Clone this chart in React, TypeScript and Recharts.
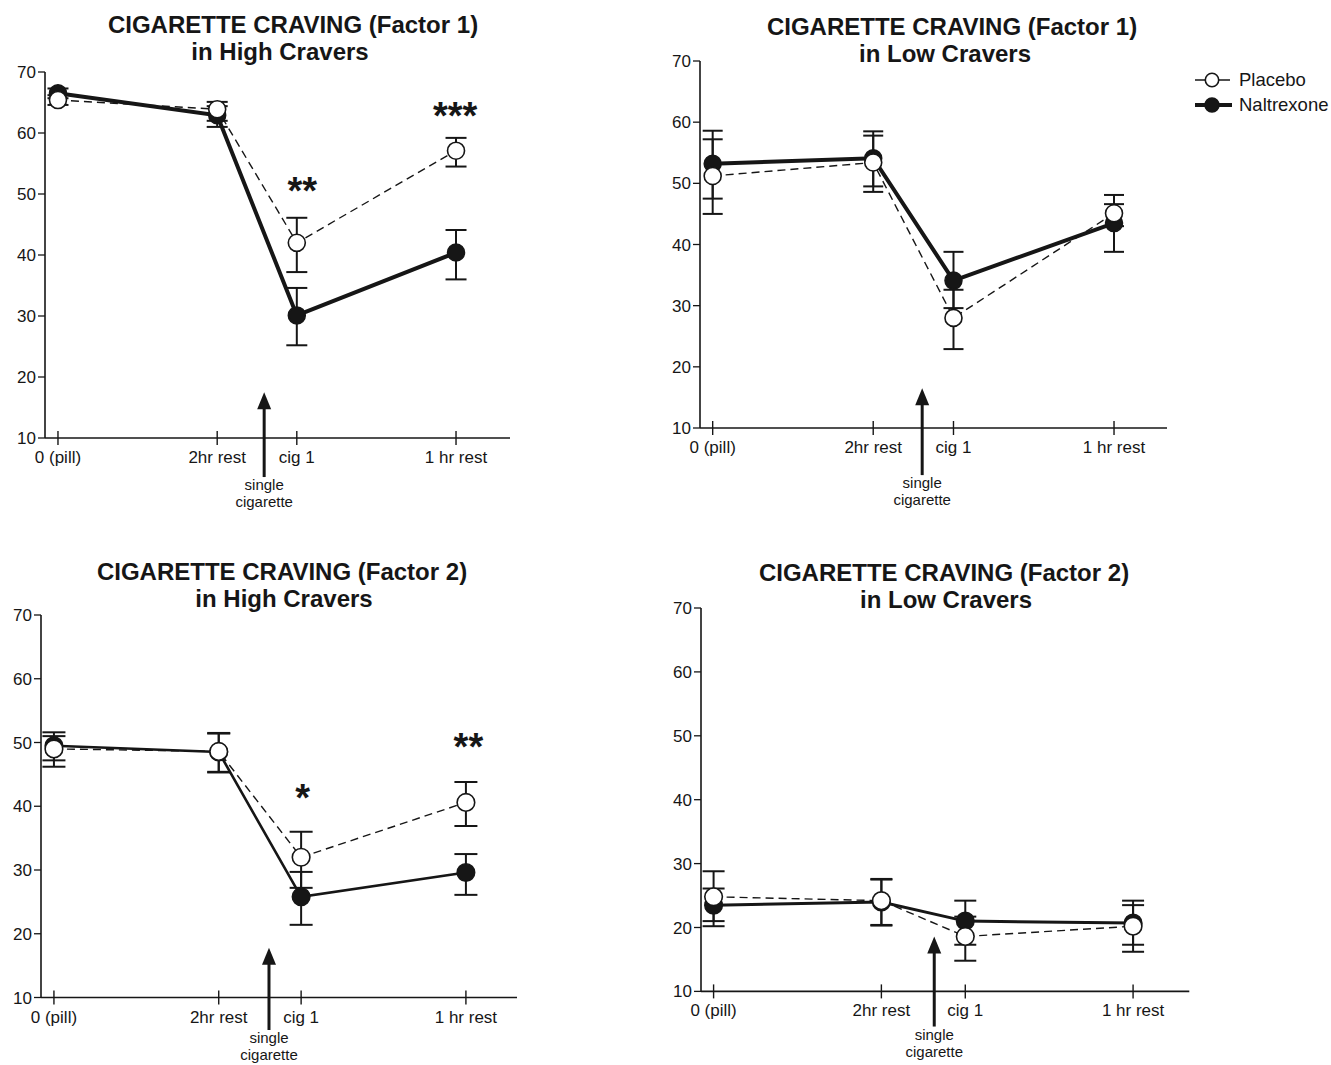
import React from 'react';
import { LineChart, Line, XAxis, YAxis, ErrorBar, ReferenceLine, ReferenceDot } from 'recharts';

const INK = '#161616';
const FONT = "'Liberation Sans', Arial, Helvetica, sans-serif";

const timeLabels = ['0 (pill)', '2hr rest', 'cig 1', '1 hr rest'];
const timePos = [0, 2, 3, 5];
const yTicks = [10, 20, 30, 40, 50, 60, 70];

// Factor 1, high cravers
const f1HighNal = [66.5, 62.9, 30.1, 40.4];
const f1HighNalLow = [65.7, 61.0, 25.2, 36.0];
const f1HighNalHigh = [67.3, 64.4, 34.6, 44.1];
const f1HighPla = [65.4, 63.9, 42.0, 57.1];
const f1HighPlaLow = [64.6, 62.0, 37.2, 54.5];
const f1HighPlaHigh = [66.2, 65.1, 46.1, 59.2];

// Factor 1, low cravers
const f1LowNal = [53.2, 54.1, 34.1, 43.5];
const f1LowNalLow = [47.5, 49.5, 29.6, 38.8];
const f1LowNalHigh = [58.6, 58.5, 38.8, 48.1];
const f1LowPla = [51.2, 53.4, 28.0, 45.1];
const f1LowPlaLow = [45.0, 48.6, 22.9, 43.0];
const f1LowPlaHigh = [57.2, 57.8, 32.6, 46.6];

// Factor 2, high cravers
const f2HighNal = [49.5, 48.5, 25.8, 29.6];
const f2HighNalLow = [47.2, 45.4, 21.4, 26.1];
const f2HighNalHigh = [51.6, 51.4, 29.7, 32.5];
const f2HighPla = [49.0, 48.6, 32.0, 40.6];
const f2HighPlaLow = [46.2, 45.3, 27.2, 36.9];
const f2HighPlaHigh = [51.0, 51.5, 36.0, 43.8];

// Factor 2, low cravers
const f2LowNal = [23.5, 24.0, 21.0, 20.7];
const f2LowNalLow = [20.2, 20.4, 17.3, 17.3];
const f2LowNalHigh = [26.1, 27.5, 24.2, 24.2];
const f2LowPla = [24.8, 24.2, 18.6, 20.2];
const f2LowPlaLow = [21.0, 20.3, 14.8, 16.2];
const f2LowPlaHigh = [28.8, 27.6, 21.7, 23.5];

// significance marks
const f1HighSigX = [3.07, 4.99];
const f1HighSigY = [52.0, 64.3];
const f1HighSigText = ['**', '***'];
const f2HighSigX = [3.02, 5.03];
const f2HighSigY = [42.7, 50.7];
const f2HighSigText = ['*', '**'];

// "single cigarette" arrow (x position, top and bottom in axis units)
const cigX = [2.59, 2.61, 2.61, 2.63];
const cigTop = [17.5, 16.5, 17.8, 18.6];
const cigBottom = [3.6, 2.3, 4.9, 4.5];

const buildRows = (
  nal: number[], nalLo: number[], nalHi: number[],
  pla: number[], plaLo: number[], plaHi: number[],
) =>
  timePos.map((x, i) => ({
    x,
    nal: nal[i],
    pla: pla[i],
    nalErr: [nal[i] - nalLo[i], nalHi[i] - nal[i]],
    plaErr: [pla[i] - plaLo[i], plaHi[i] - pla[i]],
  }));

const buildSig = (xs: number[], ys: number[], texts: string[]) =>
  xs.map((x, i) => ({ x, y: ys[i], text: texts[i] }));

const Y_W = 40;

const panels = [
  {
    id: 'f1h',
    title: ['CIGARETTE CRAVING (Factor 1)', 'in High Cravers'],
    titleX: [293, 280],
    titleBase: [33, 60],
    plot: { l: 45, r: 510, t: 72, b: 438 },
    xDomain: [-0.163, 5.678],
    rows: buildRows(f1HighNal, f1HighNalLow, f1HighNalHigh, f1HighPla, f1HighPlaLow, f1HighPlaHigh),
    sig: buildSig(f1HighSigX, f1HighSigY, f1HighSigText),
    nalWidth: 4,
    dotR: 8.5,
    cap: 10.5,
  },
  {
    id: 'f1l',
    title: ['CIGARETTE CRAVING (Factor 1)', 'in Low Cravers'],
    titleX: [952, 945],
    titleBase: [35.5, 62.5],
    plot: { l: 700, r: 1167, t: 61, b: 428 },
    xDomain: [-0.158, 5.66],
    rows: buildRows(f1LowNal, f1LowNalLow, f1LowNalHigh, f1LowPla, f1LowPlaLow, f1LowPlaHigh),
    sig: [],
    nalWidth: 4,
    dotR: 8.5,
    cap: 10,
  },
  {
    id: 'f2h',
    title: ['CIGARETTE CRAVING (Factor 2)', 'in High Cravers'],
    titleX: [282, 284],
    titleBase: [580.5, 607.5],
    plot: { l: 41, r: 517, t: 614.5, b: 997 },
    xDomain: [-0.157, 5.62],
    rows: buildRows(f2HighNal, f2HighNalLow, f2HighNalHigh, f2HighPla, f2HighPlaLow, f2HighPlaHigh),
    sig: buildSig(f2HighSigX, f2HighSigY, f2HighSigText),
    nalWidth: 2.6,
    dotR: 8.8,
    cap: 11.5,
  },
  {
    id: 'f2l',
    title: ['CIGARETTE CRAVING (Factor 2)', 'in Low Cravers'],
    titleX: [944, 946],
    titleBase: [581.5, 608.5],
    plot: { l: 700.7, r: 1189, t: 608.3, b: 991.7 },
    xDomain: [-0.15, 5.67],
    rows: buildRows(f2LowNal, f2LowNalLow, f2LowNalHigh, f2LowPla, f2LowPlaLow, f2LowPlaHigh),
    sig: [],
    nalWidth: 3,
    dotR: 8.8,
    cap: 11,
  },
];

const XTick = (props: any) => {
  const { x, y, payload } = props;
  const axisY = y - 7;
  const i = timePos.indexOf(payload.value);
  return (
    <g>
      <line x1={x} x2={x} y1={axisY - 7} y2={axisY + 7} stroke={INK} strokeWidth={1.4} />
      <text x={x} y={axisY + 25} textAnchor="middle" fontSize={17} fontFamily={FONT} fill={INK}>
        {timeLabels[i]}
      </text>
    </g>
  );
};

const CigArrow = (props: any) => {
  const { x1, y1, y2 } = props;
  const top = Math.min(y1, y2);
  const bot = Math.max(y1, y2);
  return (
    <g>
      <line x1={x1} x2={x1} y1={top + 14} y2={bot} stroke={INK} strokeWidth={3} />
      <polygon points={`${x1},${top} ${x1 - 7},${top + 17} ${x1 + 7},${top + 17}`} fill={INK} />
      <text x={x1} y={bot + 13} textAnchor="middle" fontSize={15} fontFamily={FONT} fill={INK}>
        single
      </text>
      <text x={x1} y={bot + 30} textAnchor="middle" fontSize={15} fontFamily={FONT} fill={INK}>
        cigarette
      </text>
    </g>
  );
};

const Panel = ({ p, idx }: { p: (typeof panels)[number]; idx: number }) => {
  const left = p.plot.l - Y_W;
  const top = p.plot.t - 12;
  const width = p.plot.r + 20 - left;
  const height = p.plot.b + 90 - top;
  return (
    <>
      {p.title.map((t, i) => (
        <div
          key={t}
          style={{
            position: 'absolute',
            left: p.titleX[i] - 250,
            top: p.titleBase[i] - 20.3,
            width: 500,
            textAlign: 'center',
            fontFamily: FONT,
            fontWeight: 'bold',
            fontSize: 24,
            lineHeight: '24px',
            color: INK,
            whiteSpace: 'nowrap',
          }}
        >
          {t}
        </div>
      ))}
      <div style={{ position: 'absolute', left, top }}>
        <LineChart
          width={width}
          height={height}
          data={p.rows}
          margin={{ top: 12, right: 20, bottom: 60, left: 0 }}
        >
          <XAxis
            dataKey="x"
            type="number"
            domain={p.xDomain}
            ticks={timePos}
            interval={0}
            height={30}
            tickSize={7}
            tickMargin={0}
            tickLine={false}
            axisLine={{ stroke: INK, strokeWidth: 1.6 }}
            tick={(props: any) => <XTick {...props} />}
          />
          <YAxis
            type="number"
            domain={[10, 70]}
            ticks={yTicks}
            interval={0}
            width={Y_W}
            tickSize={7}
            tickMargin={2}
            tickLine={{ stroke: INK, strokeWidth: 1.3 }}
            axisLine={{ stroke: INK, strokeWidth: 1.6 }}
            tick={{ fill: INK, fontSize: 17, fontFamily: FONT }}
          />
          <ReferenceLine
            segment={[
              { x: cigX[idx], y: cigTop[idx] },
              { x: cigX[idx], y: cigBottom[idx] },
            ]}
            ifOverflow="visible"
            stroke={INK}
            shape={(props: any) => <CigArrow {...props} />}
          />
          <Line
            dataKey="nal"
            type="linear"
            stroke={INK}
            strokeWidth={p.nalWidth}
            dot={{ r: p.dotR, fill: INK, stroke: INK, strokeWidth: 1.5 }}
            activeDot={false}
            isAnimationActive={false}
          >
            <ErrorBar dataKey="nalErr" direction="y" width={p.cap} stroke={INK} strokeWidth={2} />
          </Line>
          <Line
            dataKey="pla"
            type="linear"
            stroke={INK}
            strokeWidth={1.4}
            strokeDasharray="8 5"
            dot={{ r: p.dotR, fill: '#fff', stroke: INK, strokeWidth: 1.6, strokeDasharray: '0' }}
            activeDot={false}
            isAnimationActive={false}
          >
            <ErrorBar dataKey="plaErr" direction="y" width={p.cap} stroke={INK} strokeWidth={2} />
          </Line>
          {p.sig.map((s) => (
            <ReferenceDot
              key={s.text + s.x}
              x={s.x}
              y={s.y}
              r={1}
              ifOverflow="visible"
              shape={(props: any) => (
                <text
                  x={props.cx}
                  y={props.cy + 22}
                  textAnchor="middle"
                  fontSize={38}
                  fontWeight="bold"
                  fontFamily={FONT}
                  fill={INK}
                >
                  {s.text}
                </text>
              )}
            />
          ))}
        </LineChart>
      </div>
    </>
  );
};

const LegendBox = () => (
  <svg
    width={146}
    height={50}
    style={{ position: 'absolute', left: 1185, top: 67 }}
  >
    <line x1={10} x2={45} y1={13} y2={13} stroke={INK} strokeWidth={1.4} />
    <circle cx={27} cy={13} r={6.7} fill="#fff" stroke={INK} strokeWidth={1.6} />
    <text x={54} y={13} dy="0.35em" fontSize={18.5} fontFamily={FONT} fill={INK}>
      Placebo
    </text>
    <line x1={10} x2={47} y1={38} y2={38} stroke={INK} strokeWidth={4} />
    <circle cx={27} cy={38} r={7} fill={INK} stroke={INK} strokeWidth={1.5} />
    <text x={54} y={38} dy="0.35em" fontSize={18.5} fontFamily={FONT} fill={INK}>
      Naltrexone
    </text>
  </svg>
);

export default function App() {
  return (
    <div
      style={{
        position: 'absolute',
        left: 0,
        top: 0,
        width: 1331,
        height: 1065,
        background: '#fff',
        overflow: 'hidden',
      }}
    >
      {panels.map((p, i) => (
        <Panel key={p.id} p={p} idx={i} />
      ))}
      <LegendBox />
    </div>
  );
}
